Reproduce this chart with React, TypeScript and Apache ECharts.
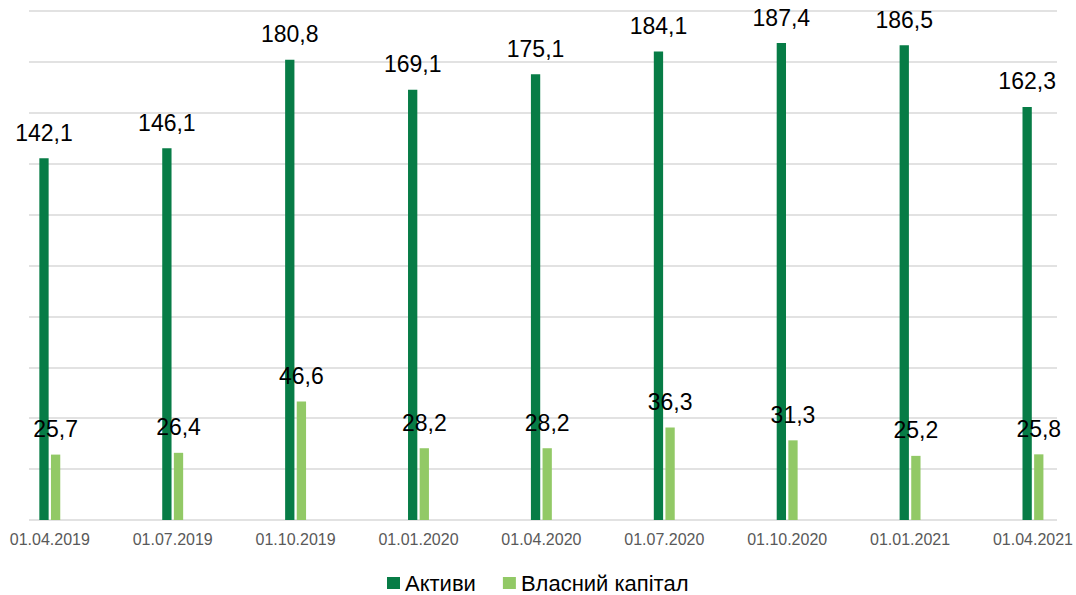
import React, { useEffect, useRef } from "react";
import * as echarts from "echarts";

const categories = [
  "01.04.2019", "01.07.2019", "01.10.2019", "01.01.2020", "01.04.2020",
  "01.07.2020", "01.10.2020", "01.01.2021", "01.04.2021",
];
const assets = [142.1, 146.1, 180.8, 169.1, 175.1, 184.1, 187.4, 186.5, 162.3];
const equity = [25.7, 26.4, 46.6, 28.2, 28.2, 36.3, 31.3, 25.2, 25.8];
const seriesNames = ["Активи", "Власний капітал"];

const FONT = "'Liberation Sans', Arial, sans-serif";
const fmt = (p: any) => String(p.value).replace(".", ",");

export default function App() {
  const ref = useRef<HTMLDivElement>(null);
  useEffect(() => {
    if (!ref.current) return;
    const chart = echarts.init(ref.current, null, { renderer: "svg" });
    chart.setOption({
      animation: false,
      textStyle: { fontFamily: FONT },
      grid: [
        { left: 29, width: 1028, top: 11, height: 509 },
        { left: 49.8, width: 986.9, top: 11, height: 509 },
      ],
      xAxis: [
        { type: "category", gridIndex: 0, data: categories, show: false },
        {
          type: "category",
          gridIndex: 1,
          data: categories,
          boundaryGap: false,
          axisLine: { show: false },
          axisTick: { show: false },
          axisLabel: { fontSize: 16, color: "#595959", margin: 11, fontFamily: FONT },
        },
      ],
      yAxis: [
        {
          type: "value",
          gridIndex: 0,
          min: 0,
          max: 200,
          interval: 20,
          axisLine: { show: false },
          axisTick: { show: false },
          axisLabel: { show: false },
          splitLine: { show: true, lineStyle: { color: "#D9D9D9", width: 1.5 } },
        },
        { type: "value", gridIndex: 1, min: 0, max: 200, show: false, splitLine: { show: false } },
      ],
      legend: {
        data: seriesNames,
        left: 387,
        top: 572,
        padding: 0,
        icon: "rect",
        itemWidth: 13,
        itemHeight: 12,
        itemGap: 27,
        textStyle: { fontSize: 22, lineHeight: 22, color: "#000", fontFamily: FONT },
      },
      series: [
        {
          name: seriesNames[0],
          type: "bar",
          xAxisIndex: 1,
          yAxisIndex: 1,
          data: assets,
          barWidth: 9.3,
          barGap: "25%",
          itemStyle: { color: "#077C46" },
          label: { show: true, position: "top", distance: 14, fontSize: 23, color: "#000", fontFamily: FONT, formatter: fmt },
        },
        {
          name: seriesNames[1],
          type: "bar",
          xAxisIndex: 1,
          yAxisIndex: 1,
          data: equity,
          barWidth: 9.3,
          barGap: "25%",
          itemStyle: { color: "#92C966" },
          label: { show: true, position: "top", distance: 14, fontSize: 23, color: "#000", fontFamily: FONT, formatter: fmt },
        },
      ],
    });
    return () => chart.dispose();
  }, []);
  return (
    <div
      ref={ref}
      style={{ position: "fixed", left: 0, top: 0, width: 1076, height: 595, background: "#fff" }}
    />
  );
}
